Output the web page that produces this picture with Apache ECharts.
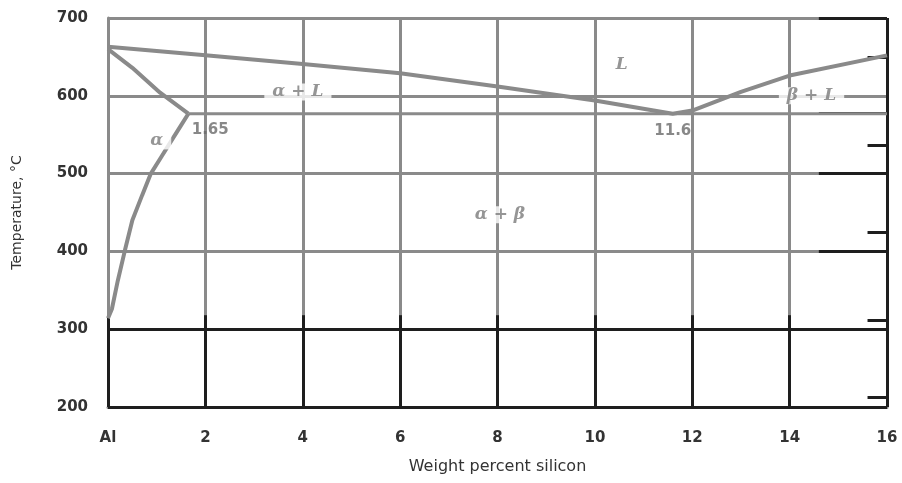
<!DOCTYPE html>
<html><head><meta charset="utf-8">
<script src="https://cdn.jsdelivr.net/npm/echarts@6/dist/echarts.min.js"></script>
<style>html,body{margin:0;padding:0;background:#fff}#c{width:902px;height:483px}</style>
</head><body><div id="c"></div>
<script>
// X tick values (wt% Si) and labels
var xTicks = [0, 2, 4, 6, 8, 10, 12, 14, 16];
var xTickLabels = ['Al', '2', '4', '6', '8', '10', '12', '14', '16'];
var yTicks = [200, 300, 400, 500, 600, 700];
// Liquidus (wt% Si, °C)
var liquidus = [[0, 663], [2, 652], [4, 641], [6, 629], [8, 612], [10, 594], [11.6, 577], [12, 581], [13, 605], [14, 626], [16, 652]];
// Solidus of alpha
var solidus = [[0, 660], [0.5, 636], [1.07, 604], [1.65, 577]];
// Solvus of alpha
var solvus = [[1.65, 577], [1.5, 562], [1.3, 542], [1.1, 522], [0.88, 500], [0.7, 472], [0.5, 440], [0.35, 402], [0.2, 362], [0.08, 326], [0, 314]];
// Eutectic isotherm
var eutectic = [[1.65, 577], [16, 577]];
// Phase labels: [x, y, text]
var phaseLabels = [[1.0, 542, 'α'], [3.9, 605, 'α + L'], [10.55, 640, 'L'], [14.45, 600, 'β + L'], [8.05, 447, 'α + β']];
var pointLabels = [[2.1, 556, '1.65'], [11.6, 555, '11.6']];
// Short dark marks along the right edge (°C)
var rightMarks = [650, 537, 425, 312, 213];
// Gridlines that turn dark near the right edge (°C)
var darkRightLines = [700, 577, 500, 400];

var gray = '#8a8a8a';
var dark = '#1e1e1e';
var chart = echarts.init(document.getElementById('c'));
function lineSeries(data, w, c) {
  return {type: 'line', data: data, symbol: 'none', smooth: false, lineStyle: {color: c || gray, width: w || 4}, z: 5, silent: true};
}
var darkSegs = xTicks.map(function (x) { return [{coord: [x, 200]}, {coord: [x, 318]}]; });
darkSegs.push([{coord: [0, 300]}, {coord: [16, 300]}]);
darkSegs.push([{coord: [0, 200]}, {coord: [16, 200]}]);
darkSegs.push([{coord: [16, 200]}, {coord: [16, 700]}]);
darkRightLines.forEach(function (t) { darkSegs.push([{coord: [14.6, t]}, {coord: [16, t]}]); });
rightMarks.forEach(function (t) { darkSegs.push([{coord: [15.6, t]}, {coord: [16, t]}]); });
chart.setOption({
  animation: false,
  grid: {left: 108, right: 15, top: 18, bottom: 76},
  xAxis: {
    type: 'value', min: 0, max: 16, interval: 2,
    name: 'Weight percent silicon', nameLocation: 'middle', nameGap: 52,
    nameTextStyle: {fontFamily: 'DejaVu Sans', fontSize: 16, color: '#333'},
    axisLine: {show: true, lineStyle: {color: gray, width: 3}},
    axisTick: {show: false},
    axisLabel: {margin: 24, fontFamily: 'DejaVu Sans', fontSize: 15, fontWeight: 'bold', color: '#333',
      formatter: function (v) { var i = xTicks.indexOf(v); return i >= 0 ? xTickLabels[i] : ''; }},
    splitLine: {show: true, lineStyle: {color: gray, width: 3}}
  },
  yAxis: {
    type: 'value', min: 200, max: 700, interval: 100,
    name: 'Temperature, °C', nameLocation: 'middle', nameGap: 84,
    nameTextStyle: {fontFamily: 'DejaVu Sans', fontSize: 14, color: '#333'},
    axisLine: {show: true, lineStyle: {color: gray, width: 3}},
    axisTick: {show: false},
    axisLabel: {margin: 20, fontFamily: 'DejaVu Sans', fontSize: 15, fontWeight: 'bold', color: '#333'},
    splitLine: {show: true, lineStyle: {color: gray, width: 3}}
  },
  series: [
    lineSeries(liquidus, 4),
    lineSeries(solidus, 4),
    lineSeries(solvus, 4),
    lineSeries(eutectic, 3),
    {type: 'line', data: [], symbol: 'none', silent: true,
      markLine: {symbol: 'none', silent: true, label: {show: false}, lineStyle: {color: dark, width: 3, type: 'solid'}, data: darkSegs}},
    {type: 'scatter', symbolSize: 0, silent: true, z: 10,
      data: phaseLabels.map(function (p) { return {value: [p[0], p[1]], name: p[2]}; }),
      label: {show: true, position: 'inside', formatter: function (p) { return p.name; },
        fontFamily: 'DejaVu Serif', fontStyle: 'italic', fontWeight: 'bold', fontSize: 17, color: '#7a7a7a',
        backgroundColor: '#fff', padding: [0, 8]}},
    {type: 'scatter', symbolSize: 0, silent: true, z: 10,
      data: pointLabels.map(function (p) { return {value: [p[0], p[1]], name: p[2]}; }),
      label: {show: true, position: 'inside', formatter: function (p) { return p.name; },
        fontFamily: 'DejaVu Sans', fontWeight: 'bold', fontSize: 15, color: '#6a6a6a'}}
  ]
});
</script></body></html>
